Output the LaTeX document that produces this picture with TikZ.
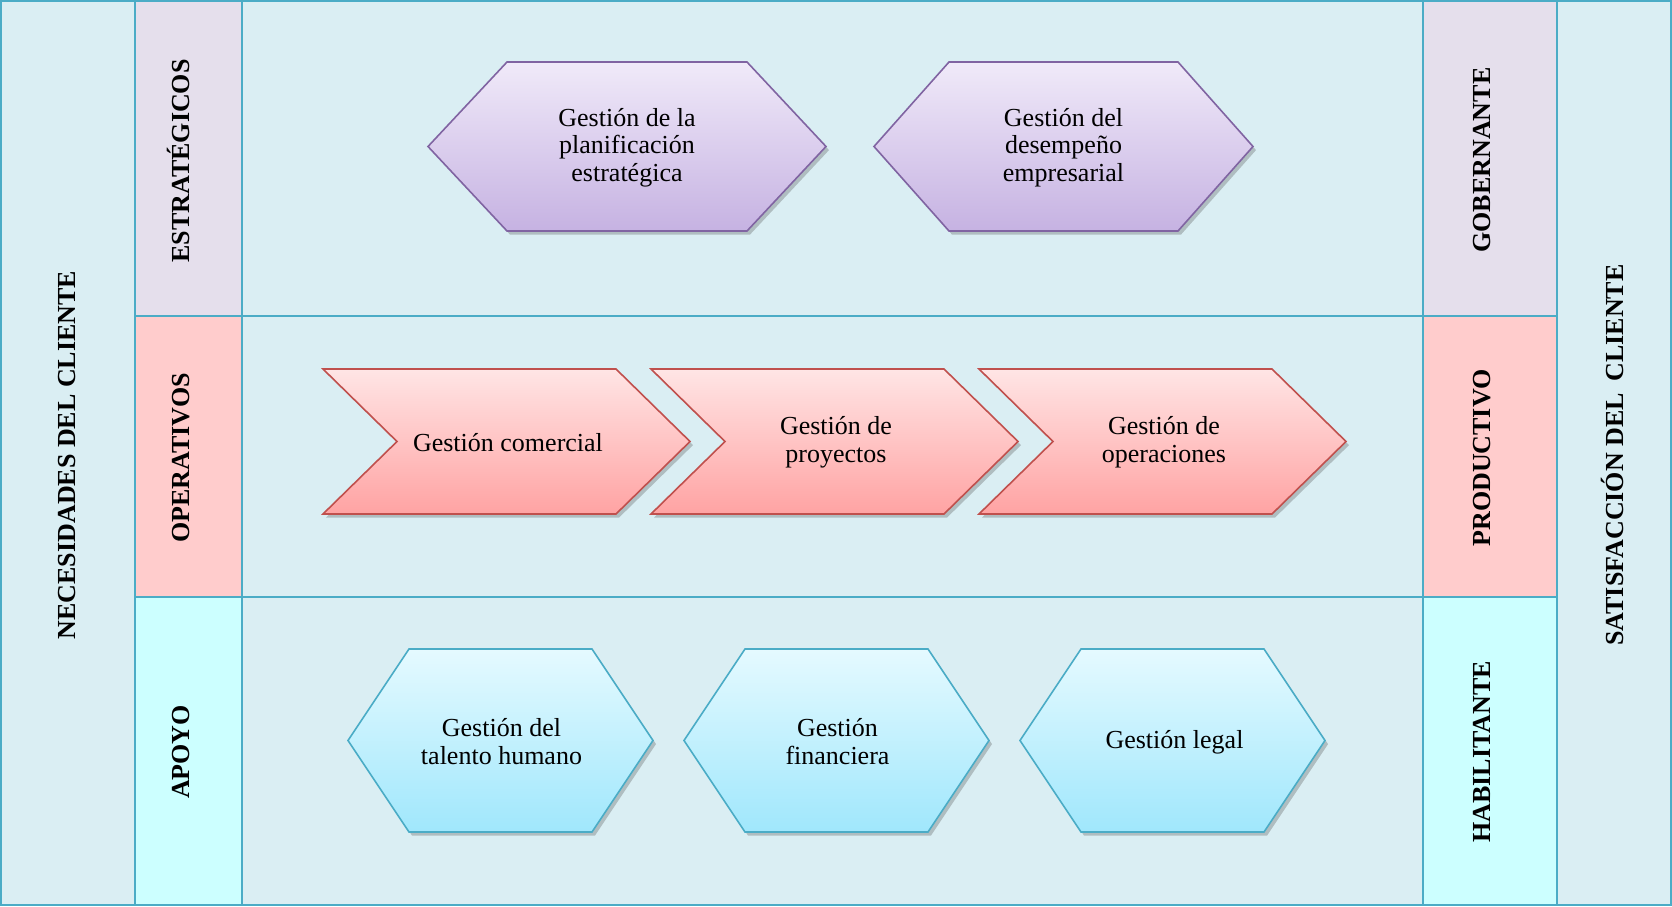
\documentclass[tikz,border=0pt]{standalone}
\usepackage{fontspec}
\setmainfont{Liberation Serif}
\usetikzlibrary{shadows}

\begin{document}
\begin{tikzpicture}[x=0.5pt,y=-0.5pt,
  cell/.style={draw=cline,line width=1pt},
  proc/.style={line width=0.8pt,drop shadow={shadow xshift=1.5pt,shadow yshift=-1.8pt,opacity=0.3,fill=black!70}},
  proctext/.style={align=center,font=\fontsize{13}{13.8}\selectfont,inner sep=0pt},
  vlabel/.style={rotate=90,font=\fontsize{13}{14}\selectfont\bfseries,text height=8.6pt,text depth=0pt,inner sep=0pt}]
%
\useasboundingbox (0,0) rectangle (1672,906);
%
\definecolor{cbg}{RGB}{218,238,243}
\definecolor{cline}{RGB}{75,172,198}
\definecolor{cpurple}{RGB}{229,223,236}
\definecolor{cred}{RGB}{255,204,204}
\definecolor{ccyan}{RGB}{204,255,255}
\definecolor{ctpurple}{RGB}{240,234,249}
\definecolor{cbpurple}{RGB}{198,178,226}
\definecolor{cdpurple}{RGB}{128,100,162}
\definecolor{ctred}{RGB}{255,229,229}
\definecolor{cbred}{RGB}{255,163,163}
\definecolor{cdred}{RGB}{192,80,77}
\definecolor{ctcyan}{RGB}{229,250,255}
\definecolor{cbcyan}{RGB}{160,231,252}
\definecolor{cdcyan}{RGB}{75,172,198}
%
% cells
\fill[cbg] (0,0) rectangle (1672,906);
\fill[cpurple] (135,0) rectangle (242,316);
\fill[cred] (135,316) rectangle (242,597);
\fill[ccyan] (135,597) rectangle (242,906);
\fill[cpurple] (1423,0) rectangle (1557,316);
\fill[cred] (1423,316) rectangle (1557,597);
\fill[ccyan] (1423,597) rectangle (1557,906);
%
\draw[cell] (1,1) rectangle (1671,905);
\draw[cell] (135,1) -- (135,905);
\draw[cell] (242,1) -- (242,905);
\draw[cell] (1423,1) -- (1423,905);
\draw[cell] (1557,1) -- (1557,905);
\draw[cell] (135,316) -- (1557,316);
\draw[cell] (135,597) -- (1557,597);
%
% column labels
\node[vlabel] (necesid) at (67,455) {NECESIDADES DEL CLIENTE};
\node[vlabel] (estrat) at (181,161) {ESTRATÉGICOS};
\node[vlabel] (operat) at (181,458) {OPERATIVOS};
\node[vlabel] (apoyo) at (181,752) {APOYO};
\node[vlabel] (gober) at (1482,160) {GOBERNANTE};
\node[vlabel] (produc) at (1482,458) {PRODUCTIVO};
\node[vlabel] (habil) at (1482,752) {HABILITANTE};
\node[vlabel] (satisf) at (1615,455) {SATISFACCIÓN DEL\hspace{0.45em}CLIENTE};
%
% estrategicos
\path[proc,draw=cdpurple,top color=ctpurple,bottom color=cbpurple] (428,146.5) -- (507,62) -- (747,62) -- (826,146.5) -- (747,231) -- (507,231) -- cycle;
\node[proctext] (plan) at (627,147.5) {Gestión de la\\planificación\\estratégica};
\path[proc,draw=cdpurple,top color=ctpurple,bottom color=cbpurple] (874,146.5) -- (949,62) -- (1178,62) -- (1253,146.5) -- (1178,231) -- (949,231) -- cycle;
\node[proctext] (desemp) at (1063.5,147.5) {Gestión del\\desempeño\\empresarial};
%
% operativos
\path[proc,draw=cdred,top color=ctred,bottom color=cbred] (323,369) -- (616,369) -- (690,441.5) -- (616,514) -- (323,514) -- (397,441.5) -- cycle;
\node[proctext] (comercial) at (508,442.5) {Gestión comercial};
\path[proc,draw=cdred,top color=ctred,bottom color=cbred] (651,369) -- (944,369) -- (1018,441.5) -- (944,514) -- (651,514) -- (725,441.5) -- cycle;
\node[proctext] (proyectos) at (836,442.5) {Gestión de\\proyectos};
\path[proc,draw=cdred,top color=ctred,bottom color=cbred] (979,369) -- (1272,369) -- (1346,441.5) -- (1272,514) -- (979,514) -- (1053,441.5) -- cycle;
\node[proctext] (operaciones) at (1164,442.5) {Gestión de\\operaciones};
%
% apoyo
\path[proc,draw=cdcyan,top color=ctcyan,bottom color=cbcyan] (348,740.5) -- (409,649) -- (592,649) -- (653,740.5) -- (592,832) -- (409,832) -- cycle;
\node[proctext] (talento) at (501.5,741.5) {Gestión del\\talento humano};
\path[proc,draw=cdcyan,top color=ctcyan,bottom color=cbcyan] (684,740.5) -- (745,649) -- (928,649) -- (989,740.5) -- (928,832) -- (745,832) -- cycle;
\node[proctext] (financiera) at (837.5,741.5) {Gestión\\financiera};
\path[proc,draw=cdcyan,top color=ctcyan,bottom color=cbcyan] (1020,740.5) -- (1081,649) -- (1264,649) -- (1325,740.5) -- (1264,832) -- (1081,832) -- cycle;
\node[proctext] (legal) at (1174.5,742.5) {Gestión legal};
%
\end{tikzpicture}
\end{document}
